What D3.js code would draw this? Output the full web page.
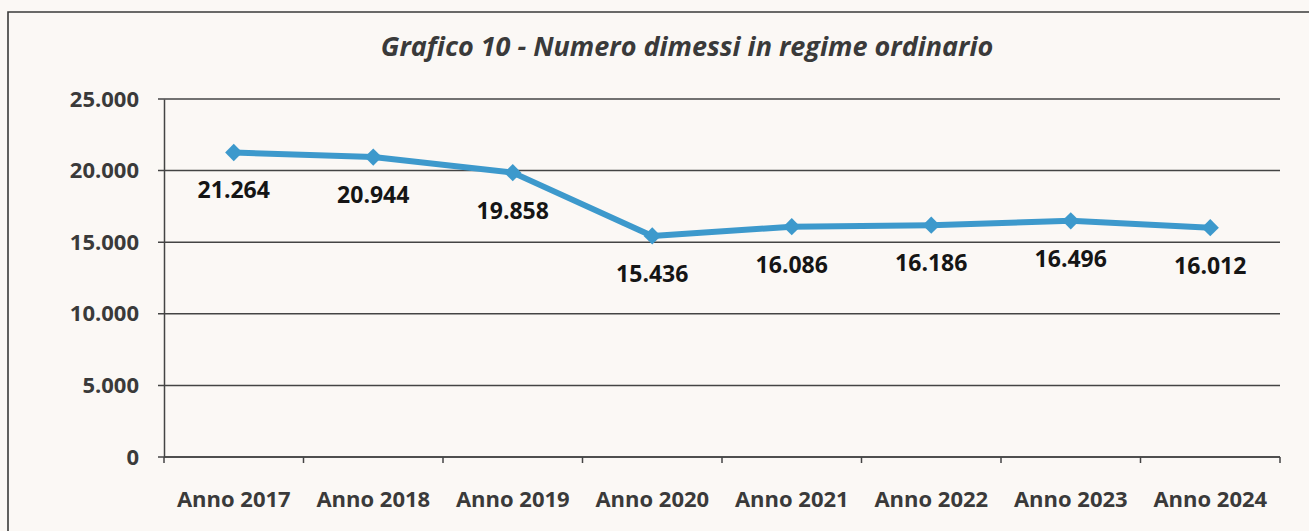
<!DOCTYPE html>
<html>
<head>
<meta charset="utf-8">
<script src="https://cdn.jsdelivr.net/npm/d3@7"></script>
<style>
  body { margin: 0; background: #fbf8f5; }
  svg { display: block; }
</style>
</head>
<body>
<div id="chart"></div>
<script>
// data
const years = ['Anno 2017', 'Anno 2018', 'Anno 2019', 'Anno 2020', 'Anno 2021', 'Anno 2022', 'Anno 2023', 'Anno 2024'];
const dimessi = [21264, 20944, 19858, 15436, 16086, 16186, 16496, 16012];
const yTicks = [0, 5000, 10000, 15000, 20000, 25000];
const title = 'Grafico 10 - Numero dimessi in regime ordinario';

const width = 1309, height = 531;
const margin = {top: 99, right: 29, bottom: 74, left: 164};
const font = '"Open Sans", Lato, sans-serif';

let fmt = d3.formatLocale({decimal: ',', thousands: '.', grouping: [3], currency: ['', '']}).format(',d');

let svg = d3.select('#chart').append('svg')
    .attr('width', width)
    .attr('height', height);

// outer frame
svg.append('path')
    .attr('d', 'M8,' + (height + 5) + 'V12H' + (width + 5))
    .attr('fill', 'none')
    .attr('stroke', '#3a3a3a')
    .attr('stroke-width', 1.6);

let x = d3.scaleBand().domain(years).range([margin.left, width - margin.right]);
let y = d3.scaleLinear().domain([0, 25000]).range([height - margin.bottom, margin.top]);

// gridlines
svg.append('g').selectAll('line')
    .data(yTicks)
    .join('line')
    .attr('x1', margin.left - 6)
    .attr('x2', width - margin.right)
    .attr('y1', d => y(d))
    .attr('y2', d => y(d))
    .attr('stroke', '#444')
    .attr('stroke-width', 1.5);

// y axis
let yAxis = svg.append('g')
    .attr('transform', 'translate(' + margin.left + ',0)')
    .call(d3.axisLeft(y).tickValues(yTicks).tickFormat(fmt).tickSize(0).tickPadding(25));
yAxis.select('.domain').attr('stroke', '#444').attr('stroke-width', 1.5);
yAxis.selectAll('text')
    .attr('font-family', font)
    .attr('font-weight', 'bold')
    .attr('font-size', 22)
    .attr('fill', '#3a3a3a');

// x axis with ticks at the band edges
let xAxis = svg.append('g')
    .attr('transform', 'translate(0,' + y(0) + ')');
xAxis.append('line')
    .attr('x1', margin.left).attr('x2', width - margin.right)
    .attr('stroke', '#444').attr('stroke-width', 1.5);
let edges = years.map(d => x(d)).concat([width - margin.right]);
xAxis.selectAll('.tk')
    .data(edges)
    .join('line')
    .attr('class', 'tk')
    .attr('x1', d => d).attr('x2', d => d)
    .attr('y1', 0).attr('y2', 6)
    .attr('stroke', '#444').attr('stroke-width', 1.5);
xAxis.selectAll('text')
    .data(years)
    .join('text')
    .attr('x', d => x(d) + x.bandwidth() / 2)
    .attr('y', 50)
    .attr('text-anchor', 'middle')
    .attr('font-family', font)
    .attr('font-weight', 'bold')
    .attr('font-size', 22)
    .attr('fill', '#3a3a3a')
    .text(d => d);

// title
svg.append('text')
    .attr('x', 687)
    .attr('y', 56)
    .attr('text-anchor', 'middle')
    .attr('font-family', font)
    .attr('font-weight', 'bold')
    .attr('font-style', 'italic')
    .attr('font-size', 27)
    .attr('fill', '#3a3a3a')
    .text(title);

// line
let cx = (d, i) => x(years[i]) + x.bandwidth() / 2;
let line = d3.line().x(cx).y(d => y(d));
svg.append('path')
    .datum(dimessi)
    .attr('d', line)
    .attr('fill', 'none')
    .attr('stroke', '#3d99cc')
    .attr('stroke-width', 6)
    .attr('stroke-linejoin', 'round');

// diamond markers
svg.append('g').selectAll('path')
    .data(dimessi)
    .join('path')
    .attr('transform', (d, i) => 'translate(' + cx(d, i) + ',' + y(d) + ')')
    .attr('d', d3.symbol(d3.symbolDiamond2, 190))
    .attr('fill', '#3d99cc');

// value labels
svg.append('g').selectAll('text')
    .data(dimessi)
    .join('text')
    .attr('x', cx)
    .attr('y', d => y(d) + 46)
    .attr('text-anchor', 'middle')
    .attr('font-family', font)
    .attr('font-weight', 'bold')
    .attr('font-size', 23)
    .attr('fill', '#151515')
    .text(d => fmt(d));
</script>
</body>
</html>
